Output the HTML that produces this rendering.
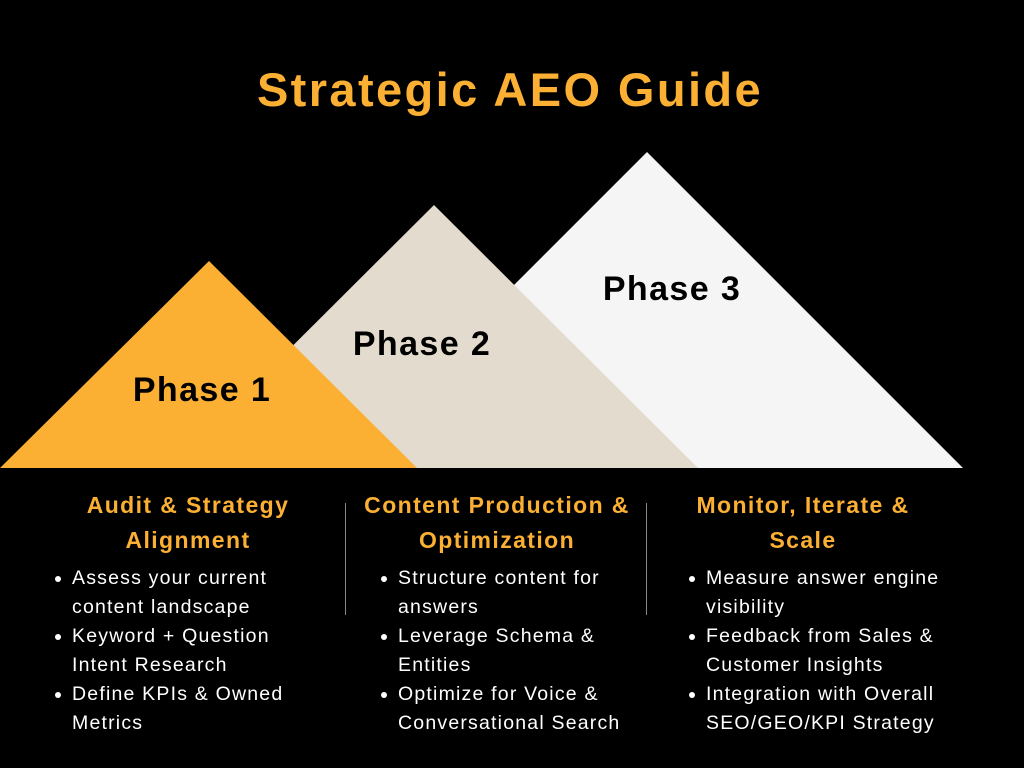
<!DOCTYPE html>
<html><head><meta charset="utf-8"><style>
body{margin:0;width:1024px;height:768px;background:#000;overflow:hidden;position:relative;font-family:"Liberation Sans",sans-serif}
.t{position:absolute;white-space:nowrap}
.h{color:#FBB034;font-weight:bold;font-size:23px;text-align:center;line-height:35px;transform:translateX(-50%);letter-spacing:1.4px}
.b{color:#fff;font-size:19.5px;line-height:29px;letter-spacing:1.2px}
.d{position:absolute;width:6px;height:6px;border-radius:50%;background:#fff}
.v{position:absolute;width:1px;background:#888;top:503px;height:112px}
</style></head><body>
<svg width="1024" height="768" style="position:absolute;left:0;top:0">
<polygon points="647,152 963,468 331,468" fill="#F5F5F5"/>
<polygon points="434,205 698,468 170,468" fill="#E3DBCD"/>
<polygon points="209,261 417,468 0,468" fill="#FBB034"/>
<text x="510" y="106" text-anchor="middle" font-family="Liberation Sans" font-weight="bold" font-size="47" letter-spacing="2.4" fill="#FBB034">Strategic AEO Guide</text>
<text x="202" y="401" text-anchor="middle" font-family="Liberation Sans" font-weight="bold" font-size="34" letter-spacing="1.4" fill="#000">Phase 1</text>
<text x="422" y="355" text-anchor="middle" font-family="Liberation Sans" font-weight="bold" font-size="34" letter-spacing="1.4" fill="#000">Phase 2</text>
<text x="672" y="300" text-anchor="middle" font-family="Liberation Sans" font-weight="bold" font-size="34" letter-spacing="1.4" fill="#000">Phase 3</text>
</svg>
<div class="t h" style="left:188px;top:488px">Audit &amp; Strategy<br>Alignment</div>
<div class="t h" style="left:497px;top:488px">Content Production &amp;<br>Optimization</div>
<div class="t h" style="left:803px;top:488px">Monitor, Iterate &amp;<br>Scale</div>
<div class="v" style="left:345px"></div><div class="v" style="left:646px"></div>
<div class="t b" style="left:72px;top:564px">Assess your current<br>content landscape<br>Keyword + Question<br>Intent Research<br>Define KPIs &amp; Owned<br>Metrics</div>
<div class="t b" style="left:398px;top:564px">Structure content for<br>answers<br>Leverage Schema &amp;<br>Entities<br>Optimize for Voice &amp;<br>Conversational Search</div>
<div class="t b" style="left:706px;top:564px">Measure answer engine<br>visibility<br>Feedback from Sales &amp;<br>Customer Insights<br>Integration with Overall<br>SEO/GEO/KPI Strategy</div>
<div class="d" style="left:55px;top:576px"></div><div class="d" style="left:55px;top:634px"></div><div class="d" style="left:55px;top:692px"></div>
<div class="d" style="left:381px;top:576px"></div><div class="d" style="left:381px;top:634px"></div><div class="d" style="left:381px;top:692px"></div>
<div class="d" style="left:689px;top:576px"></div><div class="d" style="left:689px;top:634px"></div><div class="d" style="left:689px;top:692px"></div>
</body></html>
